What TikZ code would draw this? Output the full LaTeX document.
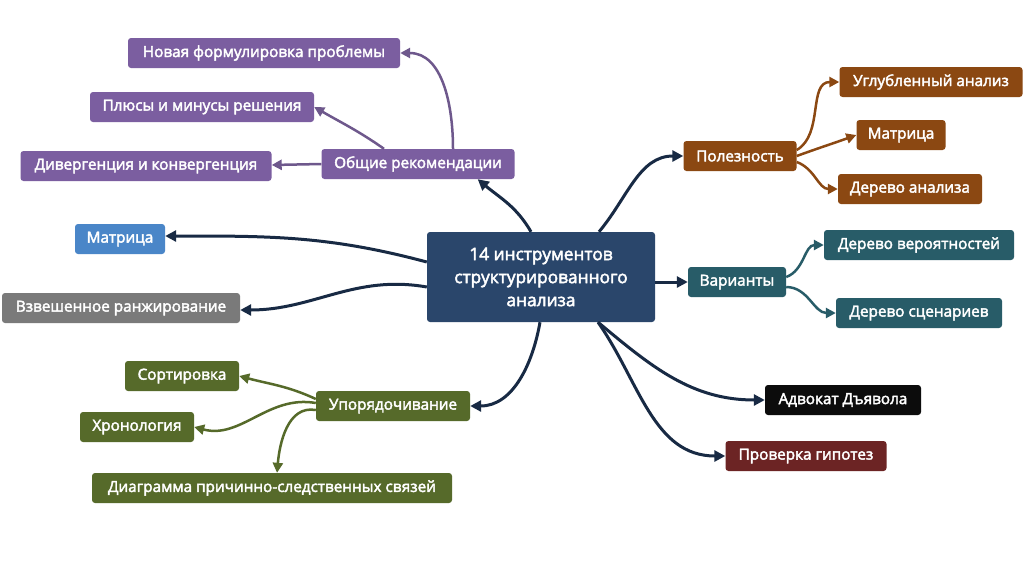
\documentclass[tikz,border=0pt]{standalone}
\usepackage{fontspec}
\setmainfont{Open Sans}[FakeBold=2.6]
\usetikzlibrary{arrows.meta,calc}
\definecolor{navy}{RGB}{42,70,107}
\definecolor{navyline}{RGB}{24,42,68}
\definecolor{purp}{RGB}{123,94,160}
\definecolor{purpline}{RGB}{110,88,140}
\definecolor{mblue}{RGB}{74,134,200}
\definecolor{mgray}{RGB}{122,122,122}
\definecolor{mgreen}{RGB}{86,106,42}
\definecolor{mbrown}{RGB}{139,72,18}
\definecolor{mteal}{RGB}{40,92,104}
\definecolor{mblack}{RGB}{12,12,12}
\definecolor{mred}{RGB}{108,36,36}
\tikzset{
  box/.style={rounded corners=3pt, text=white, font=\fontsize{15.3}{18}\selectfont, inner sep=0pt, minimum height=30pt},
  main/.style={line width=3pt, draw=navyline, -{Triangle[length=11pt,width=11pt]}},
  sub/.style={line width=2.5pt, -{Triangle[length=10pt,width=10pt]}}
}
\begin{document}
\begin{tikzpicture}[x=1pt,y=-1pt]
\useasboundingbox (0,0) rectangle (1024,574);
\fill[white] (0,0) rectangle (1024,574);
% center
\node[box, fill=navy, minimum width=228pt, minimum height=90pt, align=center, font=\fontsize{17.3}{23}\selectfont] (c) at (541,277) {14 инструментов\\структурированного\\анализа};
% purple
\node[box, fill=purp, minimum width=193pt] (obs) at (418,164) {Общие рекомендации};
\node[box, fill=purp, minimum width=272pt] (nov) at (264,53) {Новая формулировка проблемы};
\node[box, fill=purp, minimum width=224pt] (plu) at (202,107) {Плюсы и минусы решения};
\node[box, fill=purp, minimum width=251pt] (div) at (146,166) {Дивергенция и конвергенция};
% left
\node[box, fill=mblue, minimum width=90pt] (mat) at (120,239) {Матрица};
\node[box, fill=mgray, minimum width=238pt] (vzv) at (121,308) {Взвешенное ранжирование};
% green
\node[box, fill=mgreen, minimum width=154pt] (upo) at (393,406) {Упорядочивание};
\node[box, fill=mgreen, minimum width=114pt] (sor) at (182,376) {Сортировка};
\node[box, fill=mgreen, minimum width=114pt] (hro) at (137,427) {Хронология};
\node[box, fill=mgreen, minimum width=360pt] (dia) at (272,488) {Диаграмма причинно-следственных связей};
% brown
\node[box, fill=mbrown, minimum width=113pt] (pol) at (740,156) {Полезность};
\node[box, fill=mbrown, minimum width=183pt] (ugl) at (931,82) {Углубленный анализ};
\node[box, fill=mbrown, minimum width=89pt] (mat2) at (901,135) {Матрица};
\node[box, fill=mbrown, minimum width=144pt] (der) at (910,189) {Дерево анализа};
% teal
\node[box, fill=mteal, minimum width=98pt] (var) at (737,282) {Варианты};
\node[box, fill=mteal, minimum width=190pt] (dve) at (919,245) {Дерево вероятностей};
\node[box, fill=mteal, minimum width=166pt] (dsc) at (919,313) {Дерево сценариев};
% others
\node[box, fill=mblack, minimum width=156pt] (adv) at (843,400) {Адвокат Дъявола};
\node[box, fill=mred, minimum width=161pt] (pro) at (806,456) {Проверка гипотез};

% main connectors
\draw[main] ($(c.north)+(-10,0)$) to[out=120,in=-40] ($(obs.south east)+(-37,0)$);
\draw[main] ($(c.north)+(58,0)$) to[out=50,in=180] (pol.west);
\draw[main] ($(c.east)+(0,5)$) -- (var.west);
\draw[main] ($(c.south)+(57,0)$) to[out=-40,in=180] (adv.west);
\draw[main] ($(c.south)+(57,0)$) to[out=-55,in=180] (pro.west);
\draw[main] ($(c.south)+(-1,0)$) to[out=-100,in=0] (upo.east);
\draw[main] ($(c.west)+(0,-15)$) to[out=165,in=0] ($(mat.east)+(0,-3)$);
\draw[main] ($(c.west)+(0,10)$) to[out=170,in=0] ($(vzv.east)+(0,2)$);
% purple
\draw[sub, draw=purpline] ($(obs.north)+(35,0)$) to[out=90,in=0] (nov.east);
\draw[sub, draw=purpline] ($(obs.north)+(-34,0)$) to[out=145,in=-30] (plu.east);
\draw[sub, draw=purpline] (obs.west) -- ($(div.east)+(0,-1)$);
% green
\draw[sub, draw=mgreen] ($(upo.west)+(0,-7)$) to[out=155,in=-15] (sor.east);
\draw[sub, draw=mgreen] ($(upo.west)+(0,-3)$) to[out=170,in=-15] (hro.east);
\draw[sub, draw=mgreen] ($(upo.west)+(0,4)$) to[out=170,in=85] ($(dia.north)+(5,0)$);
% brown
\draw[sub, draw=mbrown] ($(pol.east)+(0,-6)$) to[out=30,in=180] (ugl.west);
\draw[sub, draw=mbrown] ($(pol.east)+(0,0)$) to[out=20,in=200] (mat2.west);
\draw[sub, draw=mbrown] ($(pol.east)+(0,6)$) to[out=-20,in=180] (der.west);
% teal
\draw[sub, draw=mteal] ($(var.east)+(0,-5)$) to[out=20,in=180] (dve.west);
\draw[sub, draw=mteal] ($(var.east)+(0,5)$) to[out=0,in=180] (dsc.west);
\end{tikzpicture}
\end{document}
